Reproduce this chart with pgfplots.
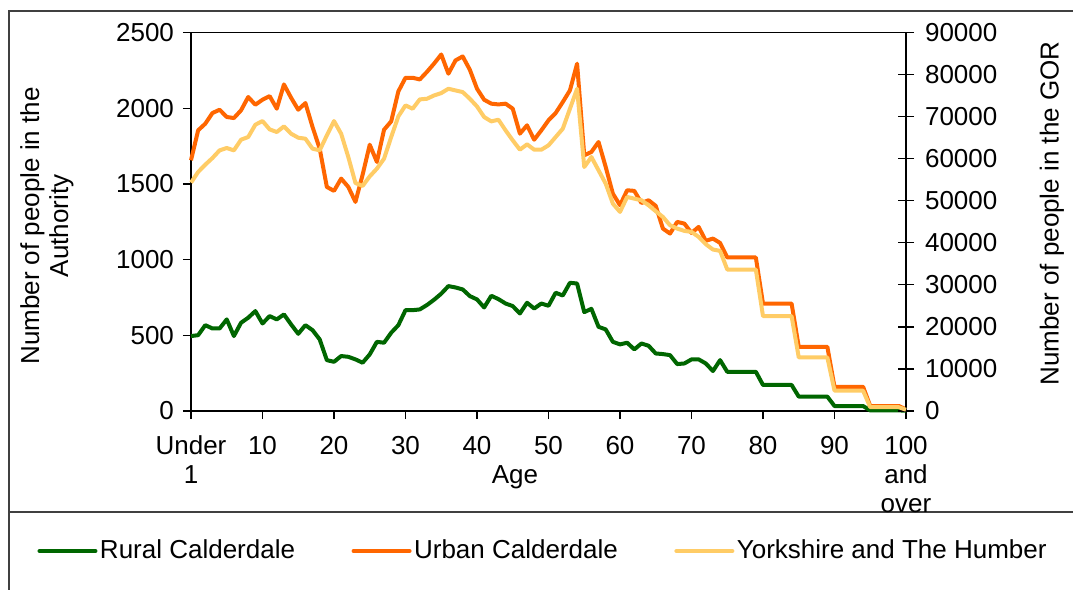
\documentclass[border=0pt]{standalone}
\usepackage{pgfplots}
\pgfplotsset{compat=1.18}
\usepackage{pgfplotstable}
\usepackage{fontspec}
\setmainfont{Liberation Sans}
\definecolor{rural}{HTML}{006600}
\definecolor{urban}{HTML}{FF6600}
\definecolor{yh}{HTML}{FFCC66}
\definecolor{frame}{HTML}{404040}
\pgfplotsset{/pgf/number format/.cd, 1000 sep={}, assume math mode=true}

\pgfplotstableread{
age rural urban
0 495 1656
1 501 1854
2 567 1898
3 545 1968
4 545 1990
5 605 1942
6 495 1935
7 583 1986
8 616 2074
9 660 2023
10 578 2056
11 627 2080
12 605 1997
13 638 2157
14 572 2069
15 510 1990
16 567 2034
17 534 1876
18 473 1733
19 336 1480
20 325 1454
21 363 1535
22 358 1480
23 341 1381
24 319 1560
25 374 1759
26 457 1645
27 451 1858
28 517 1913
29 567 2111
30 666 2201
31 666 2201
32 671 2190
33 700 2240
34 735 2295
35 775 2355
36 825 2228
37 816 2316
38 803 2342
39 759 2254
40 737 2129
41 684 2056
42 761 2030
43 739 2025
44 710 2030
45 693 1997
46 644 1832
47 715 1887
48 677 1792
49 710 1854
50 695 1920
51 781 1968
52 763 2041
53 847 2118
54 842 2294
55 653 1689
56 675 1711
57 556 1777
58 539 1612
59 457 1436
60 440 1359
61 451 1458
62 407 1454
63 446 1374
64 431 1392
65 380 1355
66 376 1205
67 369 1172
68 310 1249
69 314 1238
70 341 1176
71 341 1216
72 314 1124
73 264 1139
74 336 1110
75 259 1014
76 259 1014
77 259 1014
78 259 1014
79 259 1014
80 172 710
81 172 710
82 172 710
83 172 710
84 172 710
85 95 424
86 95 424
87 95 424
88 95 424
89 95 424
90 33 160
91 33 160
92 33 160
93 33 160
94 33 160
95 4 33
96 4 33
97 4 33
98 4 33
99 4 33
100 2 11
}\authority

\pgfplotstableread{
age yh
0 54300
1 56840
2 58580
3 60160
4 61980
5 62540
6 61980
7 64520
8 65150
9 68080
10 68950
11 66970
12 66340
13 67680
14 65940
15 64990
16 64750
17 62380
18 61980
19 65540
20 68950
21 65940
22 60400
23 54220
24 53510
25 55800
26 57630
27 60000
28 65150
29 70060
30 72670
31 71880
32 74100
33 74250
34 75040
35 75600
36 76630
37 76230
38 75840
39 74250
40 72430
41 69900
42 68870
43 69270
44 66730
45 64360
46 62140
47 63410
48 62140
49 62140
50 63170
51 65150
52 67130
53 71880
54 76630
55 58020
56 60400
57 57230
58 54070
59 49320
60 47340
61 50900
62 50500
63 50110
64 48920
65 47500
66 46150
67 44170
68 43380
69 42830
70 42590
71 41400
72 39660
73 38400
74 38080
75 33640
76 33640
77 33640
78 33640
79 33640
80 22560
81 22560
82 22560
83 22560
84 22560
85 12750
86 12750
87 12750
88 12750
89 12750
90 4830
91 4830
92 4830
93 4830
94 4830
95 900
96 900
97 900
98 900
99 900
100 300
}\gor

\begin{document}
\fontsize{13}{14.5}\selectfont
\begin{tikzpicture}
\path[use as bounding box] (0pt,0pt) rectangle (536.5pt,-295pt);
\draw[line width=0.8pt, frame] (4.5pt,-300pt) -- (4.5pt,-5.5pt) -- (540pt,-5.5pt);
\draw[line width=0.8pt, frame] (4.5pt,-256pt) -- (540pt,-256pt);

\begin{axis}[
  at={(95.5pt,-205.5pt)}, anchor=south west,
  scale only axis, width=357.5pt, height=189.25pt,
  xmin=0, xmax=100, ymin=0, ymax=2500,
  clip=false,
  xtick={0,10,...,100},
  xticklabels={{Under\\1},10,20,30,40,50,60,70,80,90,{100\\and\\over}},
  xticklabel style={align=center, yshift=-4pt},
  ytick={0,500,...,2500},
  xtick pos=bottom, ytick pos=left,
  tick align=outside,
  major tick length=4pt,
  tick style={black, line width=0.6pt},
  scaled y ticks=false,
  axis line style={black, line width=0.9pt},
  xlabel={Age},
  xlabel style={at={(axis description cs:0.453,-0.176)}, anchor=center},
  ylabel={Number of people in the\\Authority},
  ylabel style={at={(axis description cs:-0.2014,0.489)}, anchor=center, align=center},
]
\addplot[rural, line width=2pt, line join=round] table[x=age, y=rural] {\authority};
\addplot[urban, line width=2pt, line join=round] table[x=age, y=urban] {\authority};
\end{axis}

\begin{axis}[
  at={(95.5pt,-205.5pt)}, anchor=south west,
  scale only axis, width=357.5pt, height=189.25pt,
  xmin=0, xmax=100, ymin=0, ymax=90000,
  clip=false,
  axis x line=none, axis y line*=right,
  ytick={0,10000,...,90000},
  tick align=center,
  major tick length=8pt,
  tick style={black, line width=0.6pt},
  scaled y ticks=false,
  axis line style={black, line width=0.9pt},
  yticklabel style={xshift=1pt},
  ylabel={Number of people in the GOR},
  ylabel style={at={(axis description cs:1.204,0.522)}, anchor=center},
  legend columns=3,
  legend cell align=left,
  legend style={at={(axis description cs:-0.2147,-0.3699)}, anchor=west,
    draw=none, fill=none, inner sep=0pt, outer sep=0pt,
    nodes={inner sep=1.25pt},
    /tikz/every even column/.append style={column sep=27pt}},
  legend image code/.code={\draw[#1, line width=2pt, line cap=round] (0pt,0pt) -- (28pt,0pt);},
]
\addlegendimage{rural}
\addlegendentry{Rural Calderdale}
\addlegendimage{urban}
\addlegendentry{Urban Calderdale}
\addplot[yh, line width=2pt, line join=round] table[x=age, y=yh] {\gor};
\addlegendentry{Yorkshire and The Humber}
\end{axis}
\end{tikzpicture}
\end{document}
